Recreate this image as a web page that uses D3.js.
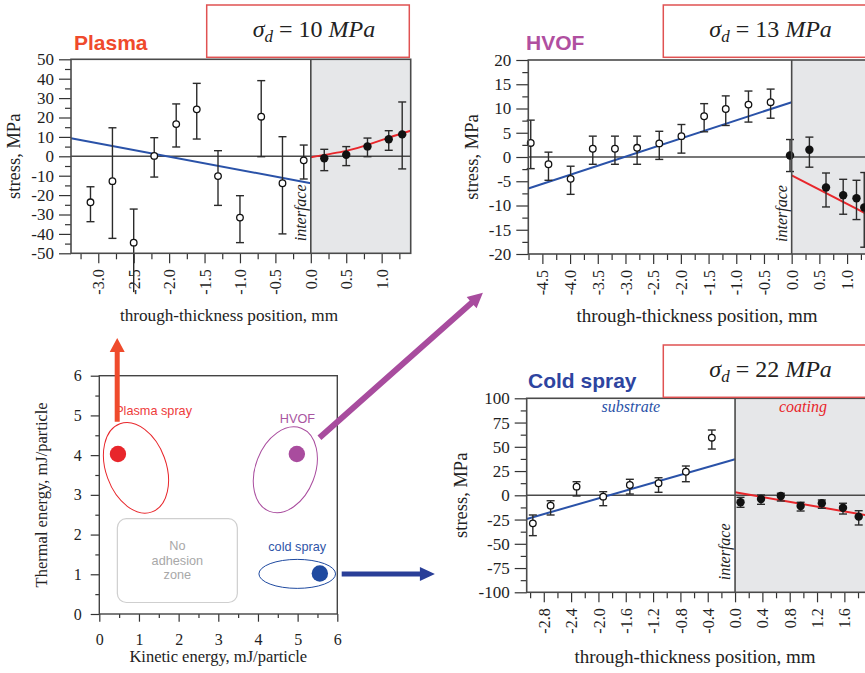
<!DOCTYPE html>
<html>
<head>
<meta charset="utf-8">
<script src="https://cdn.jsdelivr.net/npm/d3@7"></script>
<style>
  body { margin: 0; background: #fff; }
  svg { display: block; }
</style>
</head>
<body>
<svg id="fig" width="865" height="673"></svg>
<script>
// ---------- data ----------
// through-thickness position (mm), stress (MPa), error bar low / high
var plasmaSubstrate = [
  {x: -3.11, y: -23.7, lo: -33.7, hi: -15.7},
  {x: -2.80, y: -12.8, lo: -42.3, hi: 14.7},
  {x: -2.50, y: -44.5, lo: -70.0, hi: -27.2},
  {x: -2.21, y: 0.2, lo: -10.7, hi: 9.6},
  {x: -1.90, y: 16.6, lo: 4.8, hi: 27.0},
  {x: -1.61, y: 24.2, lo: 8.9, hi: 37.6},
  {x: -1.31, y: -10.2, lo: -25.3, hi: 2.9},
  {x: -1.00, y: -31.6, lo: -44.5, hi: -20.3},
  {x: -0.70, y: 20.4, lo: -0.2, hi: 39.0},
  {x: -0.40, y: -13.9, lo: -40.0, hi: 10.1},
  {x: -0.10, y: -2.1, lo: -11.7, hi: 5.8}
];
var plasmaCoating = [
  {x: 0.19, y: -1.0, lo: -7.4, hi: 3.6},
  {x: 0.50, y: 0.8, lo: -4.8, hi: 5.0},
  {x: 0.80, y: 5.1, lo: -0.2, hi: 9.4},
  {x: 1.10, y: 8.8, lo: 3.1, hi: 13.2},
  {x: 1.29, y: 11.3, lo: -6.5, hi: 28.0}
];
var plasmaSubFit = [{x: -3.385, y: 9.3}, {x: 0, y: -13.9}];
var plasmaCoatFit = [{x: 0, y: -0.5}, {x: 0.5, y: 2.8}, {x: 0.8, y: 5.9}, {x: 1.1, y: 9.6}, {x: 1.41, y: 13.2}];

var hvofSubstrate = [
  {x: -4.71, y: 2.9, lo: -2.4, hi: 7.6},
  {x: -4.39, y: -1.5, lo: -4.8, hi: 1.0},
  {x: -3.99, y: -4.5, lo: -7.7, hi: -1.9},
  {x: -3.59, y: 1.7, lo: -1.5, hi: 4.3},
  {x: -3.19, y: 1.7, lo: -1.5, hi: 4.3},
  {x: -2.79, y: 1.9, lo: -1.5, hi: 4.3},
  {x: -2.39, y: 2.8, lo: -0.5, hi: 5.3},
  {x: -1.99, y: 4.3, lo: 0.8, hi: 6.7},
  {x: -1.58, y: 8.4, lo: 5.2, hi: 11.0},
  {x: -1.19, y: 9.9, lo: 6.5, hi: 12.6},
  {x: -0.78, y: 10.8, lo: 7.2, hi: 13.6},
  {x: -0.38, y: 11.3, lo: 8.0, hi: 14.0}
];
var hvofCoating = [
  {x: -0.03, y: 0.3, lo: -3.0, hi: 3.6},
  {x: 0.32, y: 1.5, lo: -2.1, hi: 4.1},
  {x: 0.62, y: -6.3, lo: -10.3, hi: -3.3},
  {x: 0.93, y: -7.9, lo: -11.8, hi: -4.6},
  {x: 1.17, y: -8.5, lo: -12.9, hi: -4.8},
  {x: 1.31, y: -10.4, lo: -18.6, hi: -3.2}
];
var hvofSubFit = [{x: -4.754, y: -6.5}, {x: 0, y: 11.3}];
var hvofCoatFit = [{x: 0, y: -3.8}, {x: 1.45, y: -12.3}];

var coldSubstrate = [
  {x: -2.96, y: -28.9, lo: -41.6, hi: -20.3},
  {x: -2.70, y: -10.7, lo: -20.3, hi: -5.6},
  {x: -2.32, y: 8.9, lo: -0.7, hi: 14.0},
  {x: -1.93, y: -1.4, lo: -10.7, hi: 3.7},
  {x: -1.54, y: 10.6, lo: 1.3, hi: 16.5},
  {x: -1.12, y: 12.4, lo: 3.1, hi: 18.1},
  {x: -0.72, y: 24.3, lo: 14.0, hi: 30.2},
  {x: -0.34, y: 59.4, lo: 47.7, hi: 67.3}
];
var coldCoating = [
  {x: 0.08, y: -7.2, lo: -12.4, hi: -2.1},
  {x: 0.38, y: -3.8, lo: -9.3, hi: 0.3},
  {x: 0.67, y: -0.7, lo: -5.9, hi: 2.1},
  {x: 0.96, y: -11.0, lo: -16.2, hi: -7.2},
  {x: 1.27, y: -8.2, lo: -13.4, hi: -4.8},
  {x: 1.58, y: -12.8, lo: -19.3, hi: -8.2},
  {x: 1.81, y: -22.0, lo: -30.6, hi: -15.9}
];
var coldSubFit = [{x: -3.05, y: -24.4}, {x: 0, y: 37.1}];
var coldCoatFit = [{x: 0, y: 3.1}, {x: 1.99, y: -21.4}];

// tick labels
var plasmaXTicks = [-3.0, -2.5, -2.0, -1.5, -1.0, -0.5, 0.0, 0.5, 1.0];
var plasmaYTicks = [-50, -40, -30, -20, -10, 0, 10, 20, 30, 40, 50];
var hvofXTicks = [-4.5, -4.0, -3.5, -3.0, -2.5, -2.0, -1.5, -1.0, -0.5, 0.0, 0.5, 1.0];
var hvofYTicks = [-20, -15, -10, -5, 0, 5, 10, 15, 20];
var coldXTicks = [-2.8, -2.4, -2.0, -1.6, -1.2, -0.8, -0.4, 0.0, 0.4, 0.8, 1.2, 1.6];
var coldYTicks = [-100, -75, -50, -25, 0, 25, 50, 75, 100];
var sigmaValues = ["10", "13", "22"];

// process map: kinetic energy vs thermal energy (mJ/particle)
var mapTicks = [0, 1, 2, 3, 4, 5, 6];
var processNames = ["Plasma spray", "HVOF", "cold spray"];
var processPoints = [{x: 0.47, y: 4.03}, {x: 4.98, y: 4.03}, {x: 5.56, y: 1.02}];
var processEllipses = [
  {cx: 0.925, cy: 3.68, rx: 0.76, ry: 1.18, angle: -20},
  {cx: 4.69, cy: 3.63, rx: 0.75, ry: 1.12, angle: 21},
  {cx: 4.99, cy: 1.01, rx: 0.966, ry: 0.365, angle: 0}
];
var processLabelPos = [{x: 0.4, y: 5.0}, {x: 4.55, y: 4.8}, {x: 4.26, y: 1.58}];
var processArrows = [
  [{x: 0.45, y: 4.84}, {x: 0.45, y: 6.95}],
  [{x: 5.55, y: 4.44}, {x: 9.67, y: 8.09}],
  [{x: 6.11, y: 1.01}, {x: 8.46, y: 1.01}]
];
var noAdhesion = {x0: 0.455, x1: 3.48, y0: 0.29, y1: 2.4, lines: ["No", "adhesion", "zone"]};

// ---------- drawing ----------
var serif = "'Liberation Serif', 'Times New Roman', serif";
var sans = "'Liberation Sans', Arial, sans-serif";
var axisCol = "#4a4a4a";
var blue = "#2a52a8", red = "#e8262b";

var svg = d3.select("#fig");

var panels = [
  {left: 71, right: 410.7, top: 59.3, bottom: 253.3, xDom: [-3.385, 1.41], yDom: [-50, 50],
   xTicks: plasmaXTicks, xMinor: 0.25, yTicks: plasmaYTicks, yMinor: 5,
   sub: plasmaSubstrate, coat: plasmaCoating, subFit: plasmaSubFit, coatFit: plasmaCoatFit, curved: true,
   title: "Plasma", titleCol: "#ef4a2c", titleX: 74, titleY: 50,
   box: {x: 206.7, y: 5}, sigma: sigmaValues[0],
   yLabelX: 20, xTitleX: 229, xTitleY: 321, xTitleSize: 17.2, regionLabels: false},
  {left: 528.3, right: 872, top: 60, bottom: 254, xDom: [-4.754, 1.45], yDom: [-20, 20],
   xTicks: hvofXTicks, xMinor: 0.25, yTicks: hvofYTicks, yMinor: 2.5,
   sub: hvofSubstrate, coat: hvofCoating, subFit: hvofSubFit, coatFit: hvofCoatFit, curved: false,
   title: "HVOF", titleCol: "#b04fa0", titleX: 526, titleY: 50,
   box: {x: 663.3, y: 5}, sigma: sigmaValues[1],
   yLabelX: 478, xTitleX: 697, xTitleY: 322, xTitleSize: 19, regionLabels: false},
  {left: 526.7, right: 871, top: 398.3, bottom: 592.3, xDom: [-3.05, 1.99], yDom: [-100, 100],
   xTicks: coldXTicks, xMinor: 0.2, yTicks: coldYTicks, yMinor: 12.5,
   sub: coldSubstrate, coat: coldCoating, subFit: coldSubFit, coatFit: coldCoatFit, curved: false,
   title: "Cold spray", titleCol: "#2d44a0", titleX: 528, titleY: 388,
   box: {x: 663.3, y: 345}, sigma: sigmaValues[2],
   yLabelX: 467, xTitleX: 695, xTitleY: 663, xTitleSize: 19, regionLabels: true}
];

function minorValues(dom, step, majors) {
  var out = [];
  var start = Math.ceil(dom[0] / step - 1e-9);
  for (var i = start; i * step <= dom[1] + 1e-9; i++) {
    var v = +(i * step).toFixed(4);
    if (!majors.some(function(m) { return Math.abs(m - v) < 1e-6; })) out.push(v);
  }
  return out;
}

function styleAxis(a, size) {
  a.select(".domain").remove();
  a.attr("font-family", null).attr("font-size", null);
  a.selectAll("line").attr("stroke", "#333").attr("stroke-width", 1.2);
  a.selectAll("text")
    .style("font-family", serif).style("font-size", size + "px")
    .attr("fill", "#1e1e1e");
}

panels.forEach(function(p) {
  var x = d3.scaleLinear().domain(p.xDom).range([p.left, p.right]);
  var y = d3.scaleLinear().domain(p.yDom).range([p.bottom, p.top]);
  var g = svg.append("g");

  // coating region
  g.append("rect")
    .attr("x", x(0)).attr("y", p.top)
    .attr("width", x(p.xDom[1]) - x(0)).attr("height", p.bottom - p.top)
    .attr("fill", "#e6e7e9");

  // zero line
  g.append("line")
    .attr("x1", p.left).attr("x2", p.right)
    .attr("y1", y(0)).attr("y2", y(0))
    .attr("stroke", axisCol).attr("stroke-width", 1.5);

  // y axis
  g.append("g").attr("transform", "translate(" + p.left + ",0)")
    .call(d3.axisLeft(y).tickValues(p.yTicks).tickSize(12).tickPadding(5).tickFormat(function(d) { return String(d); }))
    .call(styleAxis, 17);
  g.append("g").attr("transform", "translate(" + p.left + ",0)")
    .call(d3.axisLeft(y).tickValues(minorValues(p.yDom, p.yMinor, p.yTicks)).tickSize(6).tickFormat(""))
    .call(styleAxis, 17);

  // x axis
  var xa = g.append("g").attr("transform", "translate(0," + p.bottom + ")")
    .call(d3.axisBottom(x).tickValues(p.xTicks).tickSize(10).tickFormat(function(d) { return d.toFixed(1); }))
    .call(styleAxis, 16);
  xa.selectAll("text")
    .attr("transform", "rotate(-90)")
    .attr("x", -16).attr("y", 0).attr("dy", "0.35em")
    .attr("text-anchor", "end");
  g.append("g").attr("transform", "translate(0," + p.bottom + ")")
    .call(d3.axisBottom(x).tickValues(minorValues(p.xDom, p.xMinor, p.xTicks)).tickSize(6).tickFormat(""))
    .call(styleAxis, 16);

  // fitted lines
  var line = d3.line().x(function(d) { return x(d.x); }).y(function(d) { return y(d.y); });
  g.append("path").datum(p.subFit)
    .attr("d", line).attr("fill", "none").attr("stroke", blue).attr("stroke-width", 2);
  g.append("path").datum(p.coatFit)
    .attr("d", line.curve(p.curved ? d3.curveNatural : d3.curveLinear))
    .attr("fill", "none").attr("stroke", red).attr("stroke-width", 2);

  // error bars
  var pts = p.sub.concat(p.coat);
  var eb = g.append("g").attr("stroke", "#2b2b2b").attr("stroke-width", 1.4);
  eb.selectAll(".bar").data(pts).join("line")
    .attr("x1", function(d) { return x(d.x); }).attr("x2", function(d) { return x(d.x); })
    .attr("y1", function(d) { return y(d.lo); }).attr("y2", function(d) { return y(d.hi); });
  var caps = [];
  pts.forEach(function(d) {
    caps.push({x: d.x, v: d.hi});
    if (d.lo >= p.yDom[0]) caps.push({x: d.x, v: d.lo});
  });
  eb.selectAll(".cap").data(caps).join("line")
    .attr("x1", function(d) { return x(d.x) - 4; }).attr("x2", function(d) { return x(d.x) + 4; })
    .attr("y1", function(d) { return y(d.v); }).attr("y2", function(d) { return y(d.v); });

  // points
  g.selectAll(".open").data(p.sub).join("circle")
    .attr("cx", function(d) { return x(d.x); }).attr("cy", function(d) { return y(d.y); })
    .attr("r", 3.3).attr("fill", "#fff").attr("stroke", "#111").attr("stroke-width", 1.3);
  g.selectAll(".filled").data(p.coat).join("circle")
    .attr("cx", function(d) { return x(d.x); }).attr("cy", function(d) { return y(d.y); })
    .attr("r", 4.2).attr("fill", "#111");

  // frame and interface
  g.append("rect")
    .attr("x", p.left).attr("y", p.top)
    .attr("width", p.right - p.left).attr("height", p.bottom - p.top)
    .attr("fill", "none").attr("stroke", axisCol).attr("stroke-width", 1.6);
  g.append("line")
    .attr("x1", x(0)).attr("x2", x(0)).attr("y1", p.top).attr("y2", p.bottom)
    .attr("stroke", axisCol).attr("stroke-width", 1.6);

  // interface label
  g.append("text")
    .attr("transform", "translate(" + (x(0) - 5) + "," + (p.bottom - 12) + ") rotate(-90)")
    .style("font-family", serif).style("font-style", "italic").style("font-size", "16px")
    .attr("fill", "#222").text("interface");

  if (p.regionLabels) {
    g.append("text").attr("x", (p.left + x(0)) / 2).attr("y", p.top + 14)
      .attr("text-anchor", "middle").style("font-family", serif).style("font-style", "italic")
      .style("font-size", "16px").attr("fill", blue).text("substrate");
    g.append("text").attr("x", (x(0) + x(p.xDom[1])) / 2).attr("y", p.top + 14)
      .attr("text-anchor", "middle").style("font-family", serif).style("font-style", "italic")
      .style("font-size", "16px").attr("fill", red).text("coating");
  }

  // axis titles
  g.append("text")
    .attr("transform", "translate(" + p.yLabelX + "," + ((p.top + p.bottom) / 2) + ") rotate(-90)")
    .attr("text-anchor", "middle").style("font-family", serif).style("font-size", "18.5px")
    .attr("fill", "#222").text("stress, MPa");
  g.append("text")
    .attr("x", p.xTitleX).attr("y", p.xTitleY)
    .attr("text-anchor", "middle").style("font-family", serif).style("font-size", p.xTitleSize + "px")
    .attr("fill", "#222").text("through-thickness position, mm");

  // panel title
  g.append("text").attr("x", p.titleX).attr("y", p.titleY)
    .style("font-family", sans).style("font-weight", "bold").style("font-size", "21px")
    .attr("fill", p.titleCol).text(p.title);

  // sigma box
  g.append("rect").attr("x", p.box.x).attr("y", p.box.y).attr("width", 202.6).attr("height", 52.3)
    .attr("fill", "#fff").attr("stroke", "#e05252").attr("stroke-width", 1.5);
  var st = g.append("text").attr("x", p.box.x + 46).attr("y", p.box.y + 31.7)
    .style("font-family", serif).style("font-size", "24px").attr("fill", "#222");
  st.append("tspan").style("font-style", "italic").text("\u03c3");
  st.append("tspan").style("font-style", "italic").style("font-size", "17px").attr("dy", 5).text("d");
  st.append("tspan").attr("dy", -5).text(" = " + p.sigma + " ");
  st.append("tspan").style("font-style", "italic").text("MPa");
});

// ---------- process map ----------
var kx = d3.scaleLinear().domain([0, 6]).range([99.3, 337.3]);
var ky = d3.scaleLinear().domain([0, 6]).range([614, 375.7]);
var m = svg.append("g");
var mapCols = ["#e8262b", "#a94c9e", "#1f4aa0"];
var textCols = ["#ee3b3b", "#a955a1", "#2f55a8"];
var arrowCols = ["#ef4b2c", "#a84c9e", "#2a3f98"];

m.append("g").attr("transform", "translate(" + kx(0) + ",0)")
  .call(d3.axisLeft(ky).tickValues(mapTicks).tickSize(8.6).tickPadding(9).tickFormat(function(d) { return String(d); }))
  .call(styleAxis, 16);
m.append("g").attr("transform", "translate(" + kx(0) + ",0)")
  .call(d3.axisLeft(ky).tickValues(minorValues([0, 6], 0.5, mapTicks)).tickSize(4).tickFormat(""))
  .call(styleAxis, 16);
m.append("g").attr("transform", "translate(0," + ky(0) + ")")
  .call(d3.axisBottom(kx).tickValues(mapTicks).tickSize(7.7).tickPadding(12).tickFormat(function(d) { return String(d); }))
  .call(styleAxis, 16);
m.append("g").attr("transform", "translate(0," + ky(0) + ")")
  .call(d3.axisBottom(kx).tickValues(minorValues([0, 6], 0.5, mapTicks)).tickSize(4).tickFormat(""))
  .call(styleAxis, 16);

m.append("rect").attr("x", kx(0)).attr("y", ky(6))
  .attr("width", kx(6) - kx(0)).attr("height", ky(0) - ky(6))
  .attr("fill", "none").attr("stroke", "#444").attr("stroke-width", 1.4);

m.append("text")
  .attr("transform", "translate(47," + ((ky(0) + ky(6)) / 2) + ") rotate(-90)")
  .attr("text-anchor", "middle").style("font-family", serif).style("font-size", "16.5px")
  .attr("fill", "#222").text("Thermal energy, mJ/particle");
m.append("text").attr("x", (kx(0) + kx(6)) / 2).attr("y", 661.5)
  .attr("text-anchor", "middle").style("font-family", serif).style("font-size", "16.5px")
  .attr("fill", "#222").text("Kinetic energy, mJ/particle");

// no adhesion zone
m.append("rect")
  .attr("x", kx(noAdhesion.x0)).attr("y", ky(noAdhesion.y1))
  .attr("width", kx(noAdhesion.x1) - kx(noAdhesion.x0)).attr("height", ky(noAdhesion.y0) - ky(noAdhesion.y1))
  .attr("rx", 9).attr("fill", "none").attr("stroke", "#cfcfcf").attr("stroke-width", 1.2);
m.selectAll(".na").data(noAdhesion.lines).join("text")
  .attr("x", (kx(noAdhesion.x0) + kx(noAdhesion.x1)) / 2)
  .attr("y", function(d, i) { return ky(1.6) + i * 14.2; })
  .attr("text-anchor", "middle").style("font-family", sans).style("font-size", "12.7px")
  .attr("fill", "#a8a8a8").text(function(d) { return d; });

// ellipses, points, labels
m.selectAll(".ell").data(processEllipses).join("ellipse")
  .attr("cx", function(d) { return kx(d.cx); }).attr("cy", function(d) { return ky(d.cy); })
  .attr("rx", function(d) { return kx(d.rx) - kx(0); }).attr("ry", function(d) { return ky(0) - ky(d.ry); })
  .attr("transform", function(d) { return "rotate(" + d.angle + "," + kx(d.cx) + "," + ky(d.cy) + ")"; })
  .attr("fill", "none").attr("stroke", function(d, i) { return mapCols[i]; }).attr("stroke-width", 1);
m.selectAll(".pt").data(processPoints).join("circle")
  .attr("cx", function(d) { return kx(d.x); }).attr("cy", function(d) { return ky(d.y); })
  .attr("r", 8.2).attr("fill", function(d, i) { return mapCols[i]; });
m.selectAll(".lbl").data(processNames).join("text")
  .attr("x", function(d, i) { return kx(processLabelPos[i].x); })
  .attr("y", function(d, i) { return ky(processLabelPos[i].y); })
  .style("font-family", sans).style("font-size", "12.7px")
  .attr("fill", function(d, i) { return textCols[i]; }).text(function(d) { return d; });

// arrows
var arrowStyle = [{w: 5, hl: 14, hw: 15}, {w: 6, hl: 15, hw: 15}, {w: 5, hl: 15, hw: 14}];
function arrowPath(a, s) {
  var x1 = kx(a[0].x), y1 = ky(a[0].y), x2 = kx(a[1].x), y2 = ky(a[1].y);
  var len = Math.hypot(x2 - x1, y2 - y1);
  var ux = (x2 - x1) / len, uy = (y2 - y1) / len, nx = -uy, ny = ux;
  var bx = x2 - ux * s.hl, by = y2 - uy * s.hl;
  var P = [
    [x1 + nx * s.w / 2, y1 + ny * s.w / 2],
    [bx + nx * s.w / 2, by + ny * s.w / 2],
    [bx + nx * s.hw / 2, by + ny * s.hw / 2],
    [x2, y2],
    [bx - nx * s.hw / 2, by - ny * s.hw / 2],
    [bx - nx * s.w / 2, by - ny * s.w / 2],
    [x1 - nx * s.w / 2, y1 - ny * s.w / 2]
  ];
  return "M" + P.map(function(q) { return q[0].toFixed(1) + "," + q[1].toFixed(1); }).join("L") + "Z";
}
m.selectAll(".arr").data(processArrows).join("path")
  .attr("d", function(d, i) { return arrowPath(d, arrowStyle[i]); })
  .attr("fill", function(d, i) { return arrowCols[i]; });
</script>
</body>
</html>
